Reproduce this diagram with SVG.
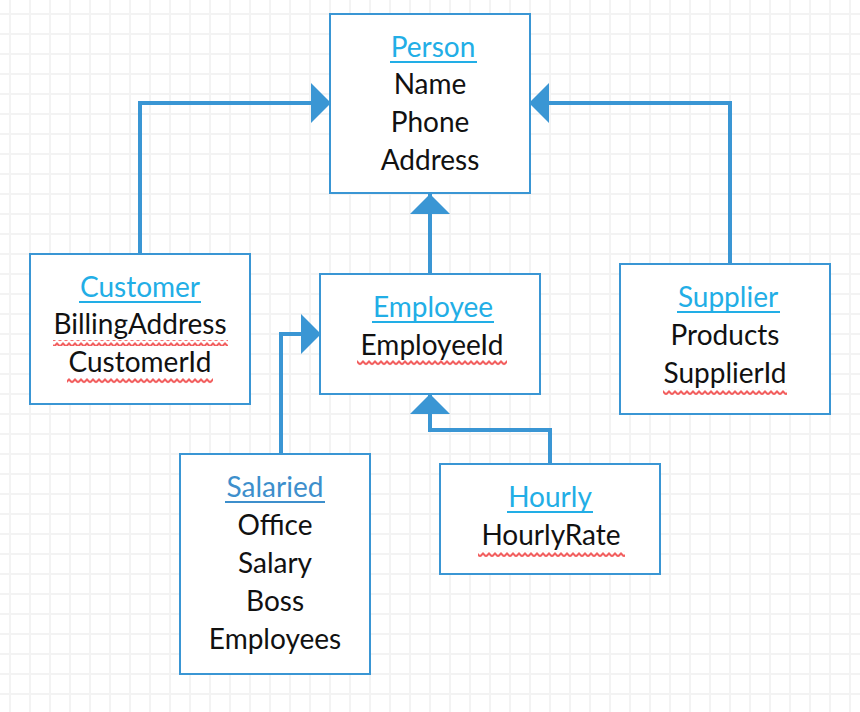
<svg xmlns="http://www.w3.org/2000/svg" width="860" height="712" viewBox="0 0 860 712">
<defs>
<pattern id="grid" width="20" height="20" patternUnits="userSpaceOnUse">
<rect x="9" y="0" width="2" height="20" fill="#f3f3f3"/>
<rect x="0" y="13" width="20" height="2" fill="#f3f3f3"/>
</pattern>
<pattern id="squig" width="6" height="6" patternUnits="userSpaceOnUse">
<path d="M0,4.5 L3,1.5 L6,4.5" fill="none" stroke="#f25f5f" stroke-width="2"/>
</pattern>
<marker id="tri" viewBox="0 0 20 40" refX="20" refY="20" markerWidth="20" markerHeight="40" markerUnits="userSpaceOnUse" orient="auto">
<path d="M0,0 L20,20 L0,40 Z" fill="#3a96d4"/>
</marker>
</defs>
<style>
.box{fill:#ffffff;stroke:#3a96d4;stroke-width:2}
.t{font-family:Lato,"Liberation Sans",sans-serif;font-size:28px;text-anchor:middle;fill:#111111}
.h{fill:#22aee6}
.h2{fill:#3d8fcc}
.ul{stroke:#22aee6;stroke-width:2}
.ul2{stroke:#3d8fcc;stroke-width:2}
.conn{fill:none;stroke:#3a96d4;stroke-width:4;marker-end:url(#tri)}
</style>
<rect width="860" height="712" fill="#ffffff"/>
<rect width="860" height="712" fill="url(#grid)"/>

<g id="connectors">
<path class="conn" d="M140,254 V103 H331"/>
<path class="conn" d="M730,264 V103 H529"/>
<path class="conn" d="M430,274 V194"/>
<path class="conn" d="M281,454 V334 H321"/>
<path class="conn" d="M550,464 V430 H430 V394"/>
</g>

<g id="person">
<rect class="box" x="330" y="14" width="200" height="179"/>
<text class="t h" x="433" y="57">Person</text>
<line class="ul" x1="390" y1="62" x2="477" y2="62"/>
<text class="t" x="430" y="94">Name</text>
<text class="t" x="430" y="132">Phone</text>
<text class="t" x="430" y="170">Address</text>
</g>

<g id="customer">
<rect class="box" x="30" y="254" width="220" height="150"/>
<text class="t h" x="140" y="297">Customer</text>
<line class="ul" x1="79" y1="302" x2="201" y2="302"/>
<text class="t" x="140" y="334">BillingAddress</text>
<rect x="53" y="340" width="175" height="6" fill="url(#squig)"/>
<text class="t" x="140" y="372">CustomerId</text>
<rect x="67" y="378" width="146" height="6" fill="url(#squig)"/>
</g>

<g id="employee">
<rect class="box" x="320" y="274" width="220" height="120"/>
<text class="t h" x="433" y="317">Employee</text>
<line class="ul" x1="372" y1="322" x2="494" y2="322"/>
<text class="t" x="432" y="355">EmployeeId</text>
<rect x="357" y="360" width="150" height="6" fill="url(#squig)"/>
</g>

<g id="supplier">
<rect class="box" x="620" y="264" width="210" height="150"/>
<text class="t h" x="728" y="307">Supplier</text>
<line class="ul" x1="677" y1="312" x2="780" y2="312"/>
<text class="t" x="725" y="345">Products</text>
<text class="t" x="725" y="383">SupplierId</text>
<rect x="663" y="389" width="124" height="6" fill="url(#squig)"/>
</g>

<g id="salaried">
<rect class="box" x="180" y="454" width="190" height="220"/>
<text class="t h2" x="275" y="497">Salaried</text>
<line class="ul2" x1="225" y1="502" x2="325" y2="502"/>
<text class="t" x="275" y="535">Office</text>
<text class="t" x="275" y="573">Salary</text>
<text class="t" x="275" y="611">Boss</text>
<text class="t" x="275" y="649">Employees</text>
</g>

<g id="hourly">
<rect class="box" x="440" y="464" width="220" height="110"/>
<text class="t h" x="550" y="507">Hourly</text>
<line class="ul" x1="507" y1="512" x2="593" y2="512"/>
<text class="t" x="551" y="545">HourlyRate</text>
<rect x="478" y="551" width="147" height="6" fill="url(#squig)"/>
</g>
</svg>
